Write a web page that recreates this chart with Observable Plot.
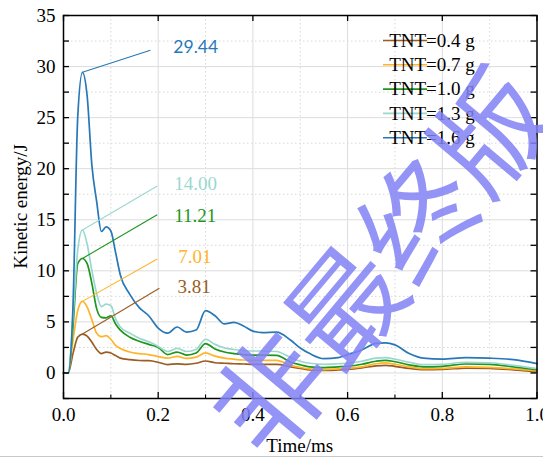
<!DOCTYPE html>
<html><head><meta charset="utf-8">
<script src="https://cdn.jsdelivr.net/npm/d3@7"></script>
<script src="https://cdn.jsdelivr.net/npm/@observablehq/plot@0.6"></script>
<style>
html,body{margin:0;padding:0;background:#fff;overflow:hidden;}
#wrap{position:relative;width:543px;height:459px;overflow:hidden;}
#wrap svg text{font-family:"Liberation Serif","Times New Roman",serif !important;}
#wrap svg g.sanslabel text{font-family:"Lato","Open Sans",sans-serif !important;}
#wrap svg text.wm{font-family:"Noto Sans CJK SC",sans-serif !important;}
</style></head>
<body><div id="wrap"></div>
<script>
// ---- data ----
const time = [0, 0.01, 0.02, 0.03, 0.04, 0.05, 0.06, 0.07, 0.08, 0.09, 0.10, 0.11, 0.12, 0.14, 0.16, 0.18, 0.20, 0.22, 0.24, 0.26, 0.28, 0.30, 0.32, 0.34, 0.36, 0.38, 0.40, 0.42, 0.45, 0.48, 0.50, 0.52, 0.55, 0.58, 0.60, 0.63, 0.66, 0.68, 0.70, 0.73, 0.76, 0.80, 0.85, 0.90, 0.95, 1.00];
const tnt04 = [0, 0, 1.9, 3.5, 3.81, 3.6, 3.0, 2.3, 1.9, 2.05, 1.95, 1.7, 1.45, 1.3, 1.22, 1.2, 1.05, 0.82, 0.9, 0.85, 0.95, 1.17, 1.0, 0.95, 0.9, 0.88, 0.85, 0.85, 0.85, 0.6, 0.45, 0.3, 0.25, 0.3, 0.35, 0.5, 0.7, 0.75, 0.65, 0.45, 0.33, 0.35, 0.48, 0.45, 0.3, 0.1];
const tnt07 = [0, 0, 3.2, 6.1, 7.01, 6.45, 5.2, 3.9, 3.55, 3.65, 3.3, 2.7, 2.4, 2.05, 1.9, 1.8, 1.6, 1.45, 1.62, 1.42, 1.55, 1.96, 1.65, 1.45, 1.35, 1.27, 1.24, 1.24, 1.24, 0.75, 0.55, 0.4, 0.33, 0.4, 0.45, 0.6, 0.9, 0.98, 0.85, 0.6, 0.43, 0.45, 0.6, 0.55, 0.4, 0.2];
const tnt10 = [0, 0, 4.5, 10.7, 11.21, 10.7, 8.75, 6.3, 5.45, 5.4, 5.6, 4.8, 4.2, 3.5, 3.1, 2.8, 2.5, 1.8, 2.05, 1.75, 1.95, 2.87, 2.35, 2.05, 1.9, 1.8, 1.75, 1.75, 1.73, 1.05, 0.8, 0.6, 0.53, 0.6, 0.66, 0.85, 1.15, 1.24, 1.1, 0.8, 0.6, 0.65, 0.88, 0.85, 0.6, 0.33];
const tnt13 = [0, 0, 5.5, 12.0, 14.00, 12.6, 10.0, 7.8, 6.5, 6.75, 6.6, 5.3, 4.5, 3.9, 3.4, 3.05, 2.6, 2.1, 2.4, 2.1, 2.3, 3.3, 2.8, 2.45, 2.3, 2.2, 2.15, 2.15, 2.1, 1.5, 1.15, 0.95, 0.85, 0.9, 0.95, 1.15, 1.45, 1.5, 1.35, 1.05, 0.82, 0.85, 1.05, 1.0, 0.75, 0.43];
const tnt16 = [0, 0, 6.5, 25.0, 29.44, 27.1, 20.3, 16.8, 13.85, 14.3, 13.9, 11.8, 9.6, 7.7, 6.4, 5.6, 4.4, 3.9, 4.5, 4.0, 4.2, 6.1, 5.6, 4.8, 4.95, 4.6, 4.1, 3.95, 4.0, 3.2, 2.45, 1.9, 1.4, 1.5, 1.8, 2.25, 2.9, 2.95, 2.75, 1.9, 1.45, 1.35, 1.5, 1.45, 1.3, 0.92];

const seriesNames = ["TNT=0.4 g", "TNT=0.7 g", "TNT=1.0 g", "TNT=1.3 g", "TNT=1.6 g"];
const seriesValues = [tnt04, tnt07, tnt10, tnt13, tnt16];
const seriesColors = ["#9a5c22", "#ffb42a", "#1e961e", "#9ad8cf", "#2678b8"];

// peak call-outs
const peakTime = 0.04;
const peakValues = [3.81, 7.01, 11.21, 14.00, 29.44];
const calloutEndT = [0.2025, 0.198, 0.198, 0.198, 0.1835];
const calloutEndV = [8.3, 11.15, 15.5, 18.3, 31.6];
const labelT = [0.2405, 0.2425, 0.234, 0.234, 0.232];
const labelV = [8.4, 11.4, 15.4, 18.5, 31.9];

// axes
const xMajor = [0, 0.2, 0.4, 0.6, 0.8, 1.0];
const xMinor = [0.1, 0.3, 0.5, 0.7, 0.9];
const xTickLabels = ["0.0", "0.2", "0.4", "0.6", "0.8", "1.0"];
const yMajor = [0, 5, 10, 15, 20, 25, 30, 35];
const yMinor = [-2.5, 2.5, 7.5, 12.5, 17.5, 22.5, 27.5, 32.5];
const yTickLabels = ["0", "5", "10", "15", "20", "25", "30", "35"];
const xTitle = "Time/ms";
const yTitle = "Kinetic energy/J";
const watermark = "非最终版";

// ---- layout ----
const W = 543, H = 459, mL = 63, mR = 6.5, mT = 15, mB = 61;
const fW = W - mL - mR, fH = H - mT - mB;
const serif = "Liberation Serif";

const rows = [];
seriesValues.forEach((vals, s) => time.forEach((t, i) => rows.push({t, v: vals[i], s})));
const callouts = peakValues.map((p, i) => ({
  x1: peakTime, y1: p, x2: calloutEndT[i], y2: calloutEndV[i],
  lx: labelT[i], ly: labelV[i], text: p.toFixed(2), color: seriesColors[i], i
}));

const marks = [
  Plot.ruleY(yMinor, {stroke: "#d8d8d8", strokeWidth: 1, strokeDasharray: "1.5,2.5"}),
  Plot.ruleX(xMinor, {stroke: "#d8d8d8", strokeWidth: 1, strokeDasharray: "1.5,2.5"}),
  Plot.ruleY(yMajor, {stroke: "#dcdcdc", strokeWidth: 1}),
  Plot.ruleX(xMajor, {stroke: "#dcdcdc", strokeWidth: 1}),
];
seriesValues.forEach((vals, s) => {
  marks.push(Plot.line(rows.filter(r => r.s === s), {x: "t", y: "v", stroke: seriesColors[s], strokeWidth: 1.7, curve: "monotone-x"}));
});
marks.push(
  Plot.link(callouts, {x1: "x1", y1: "y1", x2: "x2", y2: "y2", stroke: d => d.color, strokeWidth: 1.1}),
  Plot.text(callouts.filter(d => d.i < 4), {x: "lx", y: "ly", text: "text", fill: d => d.color, textAnchor: "start", lineAnchor: "middle", fontSize: 19}),
  Plot.text(callouts.filter(d => d.i === 4), {x: "lx", y: "ly", text: "text", fill: d => d.color, textAnchor: "start", lineAnchor: "middle", fontSize: 17.5, className: "sanslabel"}),
  Plot.frame({stroke: "black", strokeWidth: 1.5}),
  // inward ticks
  Plot.ruleX(xMajor, {stroke: "black", strokeWidth: 1.3, insetTop: fH - 6}),
  Plot.ruleX(xMinor, {stroke: "black", strokeWidth: 1.1, insetTop: fH - 3.5}),
  Plot.ruleX(xMajor, {stroke: "black", strokeWidth: 1.3, insetBottom: fH - 6}),
  Plot.ruleY(yMajor.concat(yMinor), {stroke: "black", strokeWidth: 1.3, insetRight: fW - 6}),
  Plot.ruleY(yMajor.concat(yMinor), {stroke: "black", strokeWidth: 1.3, insetLeft: fW - 6}),
  Plot.axisX(xMajor, {tickSize: 0, tickPadding: 9, tickFormat: d => xTickLabels[xMajor.indexOf(d)], label: null, fontSize: 19}),
  Plot.axisY(yMajor, {tickSize: 0, tickPadding: 8, tickFormat: d => yTickLabels[yMajor.indexOf(d)], label: null, fontSize: 19})
);

const svgNode = Plot.plot({
  width: W, height: H,
  marginLeft: mL, marginRight: mR, marginTop: mT, marginBottom: mB,
  x: {domain: [0, 1], axis: null},
  y: {domain: [-2.5, 35], axis: null},
  style: {fontSize: "19px", background: "white", color: "black"},
  marks
});
document.getElementById("wrap").appendChild(svgNode);

const svg = d3.select(svgNode);
// axis titles
svg.append("text").attr("x", (mL + W - mR) / 2).attr("y", 451.5).attr("text-anchor", "middle")
  .attr("font-size", 19).attr("fill", "black").text(xTitle);
svg.append("text").attr("transform", `translate(27,${mT + fH / 2}) rotate(-90)`).attr("text-anchor", "middle")
  .attr("font-size", 19).attr("fill", "black").text(yTitle);

// legend
const lg = svg.append("g");
seriesNames.forEach((name, i) => {
  const y = 40.5 + i * 24.3;
  lg.append("line").attr("x1", 383).attr("x2", 427).attr("y1", y).attr("y2", y)
    .attr("stroke", seriesColors[i]).attr("stroke-width", 1.6);
  lg.append("text").attr("x", 432).attr("y", y + 6.3).attr("font-size", 19)
    .attr("fill", "black").text(name);
});

// watermark overlay
svg.append("text").attr("class", "wm").attr("transform", "translate(376,258) rotate(-50)")
  .attr("text-anchor", "middle").attr("dominant-baseline", "central")
  .attr("font-size", 114).attr("font-weight", 400)
  .attr("fill", "#8282f6").attr("opacity", 0.85).text(watermark);

// bottom border of the picture
svg.append("line").attr("x1", 0).attr("x2", W).attr("y1", 456.5).attr("y2", 456.5).attr("stroke", "#c8c8c8").attr("stroke-width", 1);
</script>
</body></html>
